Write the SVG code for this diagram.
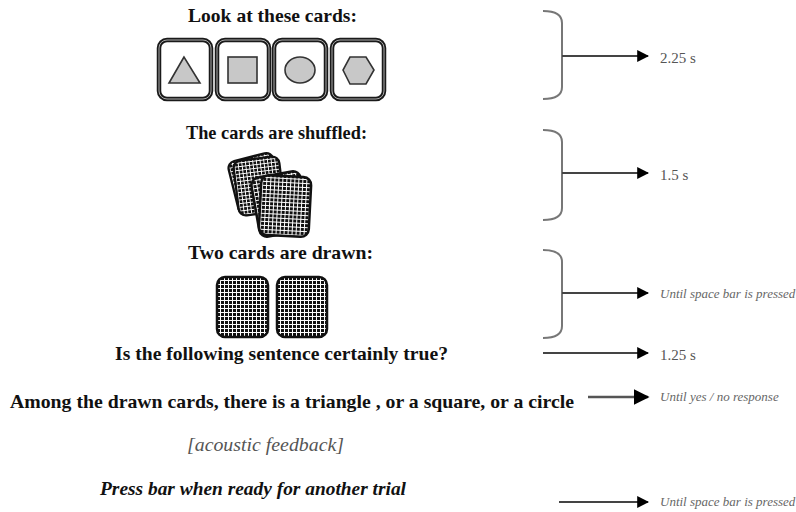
<svg xmlns="http://www.w3.org/2000/svg" width="796" height="512" viewBox="0 0 796 512">
<defs>
<style>
.t{font-family:"Liberation Serif","Times New Roman",serif;font-weight:bold;font-size:19.5px;fill:#111}
.lab{font-family:"Liberation Serif","Times New Roman",serif;font-size:15px;fill:#555}
.labi{font-family:"Liberation Serif","Times New Roman",serif;font-style:italic;font-size:13px;fill:#666}
.card{fill:#fff;stroke:#1a1a1a;stroke-width:4.5}
.cardin{fill:none;stroke:#aaa;stroke-width:1}
.shape{fill:#c8c8c8;stroke:#333;stroke-width:1.6}
.back{fill:url(#plaid);stroke:#111;stroke-width:2.5}
.brace{fill:none;stroke:#777;stroke-width:2}
.arr{stroke:#444;stroke-width:2;fill:none;marker-end:url(#ah)}
</style>
<pattern id="plaid" width="4" height="4" patternUnits="userSpaceOnUse">
<rect width="4" height="4" fill="#111"/>
<rect x="0" y="0" width="1" height="4" fill="#fff"/>
<rect x="0" y="0" width="4" height="1" fill="#fff"/>
</pattern>
<marker id="ah" viewBox="0 0 10 10" refX="9" refY="5" markerWidth="6" markerHeight="6" markerUnits="strokeWidth" orient="auto">
<path d="M0,0 L10,5 L0,10 z" fill="#000"/>
</marker>
<rect id="bk" x="-25" y="-30" width="50" height="60" rx="8" class="back"/>
</defs>
<rect width="796" height="512" fill="#fff"/>

<g id="look">
<text class="t" x="188" y="22" textLength="169" lengthAdjust="spacingAndGlyphs">Look at these cards:</text>
<g id="card-triangle">
<rect x="159" y="40" width="52" height="59" rx="8" class="card"/>
<rect x="159" y="40" width="52" height="59" rx="8" class="cardin"/>
<polygon points="184,57 169,83 200,83" class="shape"/>
</g>
<g id="card-square">
<rect x="217" y="40" width="52" height="59" rx="8" class="card"/>
<rect x="217" y="40" width="52" height="59" rx="8" class="cardin"/>
<rect x="228" y="57" width="29" height="26" class="shape"/>
</g>
<g id="card-circle">
<rect x="274" y="40" width="52" height="59" rx="8" class="card"/>
<rect x="274" y="40" width="52" height="59" rx="8" class="cardin"/>
<ellipse cx="300" cy="70" rx="15" ry="13" class="shape"/>
</g>
<g id="card-hexagon">
<rect x="332" y="40" width="52" height="59" rx="8" class="card"/>
<rect x="332" y="40" width="52" height="59" rx="8" class="cardin"/>
<polygon points="350,57 366,57 374,70 366,84 350,84 343,70" class="shape"/>
</g>
</g>

<g id="shuffle">
<text class="t" x="186" y="139" textLength="181" lengthAdjust="spacingAndGlyphs">The cards are shuffled:</text>
<use href="#bk" transform="translate(256,184) rotate(-14) scale(0.92)"/>
<use href="#bk" transform="translate(259,186) rotate(-7) scale(0.92)"/>
<use href="#bk" transform="translate(280,204) rotate(-10)"/>
<use href="#bk" transform="translate(285,206) rotate(3)"/>
</g>

<g id="drawn">
<text class="t" x="188" y="259" textLength="185" lengthAdjust="spacingAndGlyphs">Two cards are drawn:</text>
<rect x="217" y="277" width="51" height="60" rx="8" class="back"/>
<rect x="277" y="277" width="50" height="60" rx="8" class="back"/>
</g>

<g id="question">
<text class="t" x="115" y="360" textLength="333" lengthAdjust="spacingAndGlyphs">Is the following sentence certainly true?</text>
</g>
<g id="sentence">
<text class="t" x="10" y="408" textLength="564" lengthAdjust="spacingAndGlyphs">Among the drawn cards, there is a triangle , or a square, or a circle</text>
</g>
<g id="feedback">
<text x="187" y="451" textLength="157" lengthAdjust="spacingAndGlyphs" style="font-family:'Liberation Serif','Times New Roman',serif;font-style:italic;font-size:19.5px;fill:#555">[acoustic feedback]</text>
</g>
<g id="press">
<text class="t" x="100" y="495" textLength="306" lengthAdjust="spacingAndGlyphs" style="font-style:italic">Press bar when ready for another trial</text>
</g>

<g id="connectors">
<path class="brace" d="M543,11 Q562,11 562,23 L562,87 Q562,99 543,99"/>
<path class="brace" d="M543,130 Q562,130 562,142 L562,208 Q562,220 543,220"/>
<path class="brace" d="M543,250 Q562,250 562,262 L562,326 Q562,338 543,338"/>
<line class="arr" x1="562" y1="56" x2="648" y2="56"/>
<line class="arr" x1="562" y1="173" x2="648" y2="173"/>
<line class="arr" x1="562" y1="293" x2="648" y2="293"/>
<line class="arr" x1="543" y1="353" x2="648" y2="353"/>
<line class="arr" x1="588" y1="397" x2="648" y2="397" style="stroke-width:2.6;stroke:#555"/>
<line class="arr" x1="559" y1="502" x2="648" y2="502"/>
</g>

<g id="labels">
<text class="lab" x="660" y="63">2.25 s</text>
<text class="lab" x="660" y="180">1.5 s</text>
<text class="labi" x="660" y="298">Until space bar is pressed</text>
<text class="lab" x="660" y="360">1.25 s</text>
<text class="labi" x="660" y="401">Until yes / no response</text>
<text class="labi" x="660" y="506">Until space bar is pressed</text>
</g>
</svg>
